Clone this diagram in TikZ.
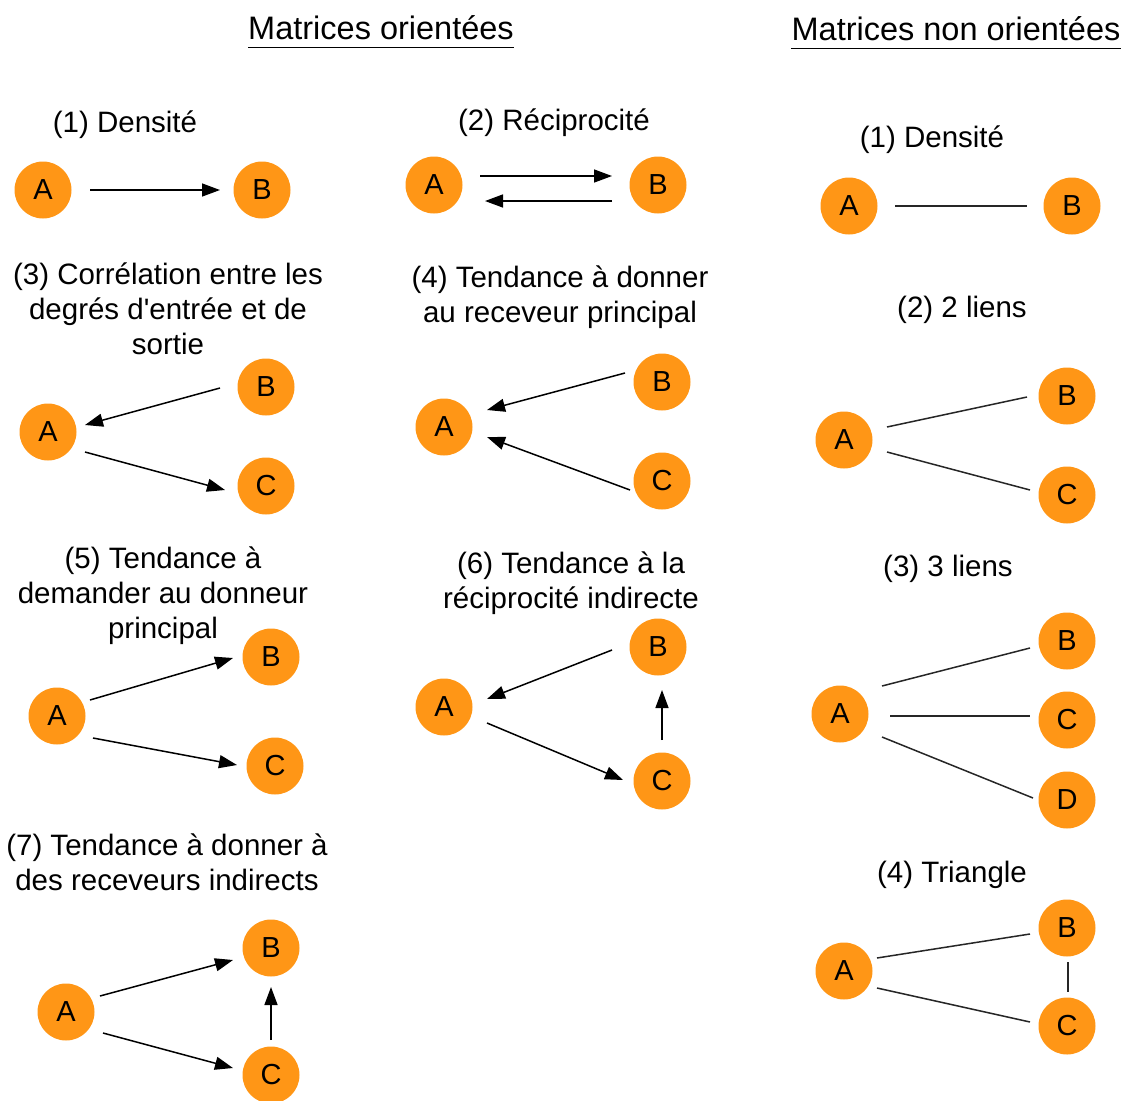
\documentclass[tikz,border=0pt]{standalone}
\usepackage{fontspec}
\setmainfont{Liberation Sans}
\usetikzlibrary{arrows.meta,calc}
\definecolor{nodeorange}{RGB}{255,150,22}
\tikzset{
  vtx/.style={circle,fill=nodeorange,minimum size=57pt,inner sep=0pt,font=\fontsize{29}{34}\selectfont},
  lbl/.style={align=center,font=\fontsize{29.5}{35}\selectfont,inner sep=0pt},
  ttl/.style={font=\fontsize{32.5}{38}\selectfont,inner sep=0pt},
  arr/.style={line width=1.5pt,-{Triangle[length=18pt,width=13pt]}},
  edg/.style={line width=1.5pt,draw=black!85}
}
\begin{document}
\begin{tikzpicture}[x=1pt,y=-1pt]
\useasboundingbox (0,0) rectangle (1128,1101);
% titles
\node[ttl] (t1) at (381,28) {Matrices orientées};
\draw[line width=1.3pt] (t1.south west)++(0,7) -- ($(t1.south east)+(0,7)$);
\node[ttl] (t2) at (956,29) {Matrices non orientées};
\draw[line width=1.3pt] (t2.south west)++(0,7) -- ($(t2.south east)+(0,7)$);

% (1)
\node[lbl] (l1) at (125,125) {(1) Densité};
\node[vtx] (a1) at (43,190) {A};
\node[vtx] (b1) at (262,190) {B};
\draw[arr] ($(a1)+(47,0)$) -- ($(b1)+(-42,0)$);

% (2)
\node[lbl] (l2) at (554,123) {(2) Réciprocité};
\node[vtx] (a2) at (434,185) {A};
\node[vtx] (b2) at (658,185) {B};
\draw[arr] ($(a2)+(46,-9)$) -- ($(b2)+(-46,-9)$);
\draw[arr] ($(b2)+(-46,16)$) -- ($(a2)+(51,16)$);

% (3)
\node[lbl] (l3) at (168,309) {(3) Corrélation entre les\\degrés d\textquotesingle entrée et de\\sortie};
\node[vtx] (a3) at (48,432) {A};
\node[vtx] (b3) at (266,387) {B};
\node[vtx] (c3) at (266,486) {C};
\draw[arr] ($(b3)+(-46,1)$) -- ($(a3)+(37,-7)$);
\draw[arr] ($(a3)+(37,20)$) -- ($(c3)+(-41,4)$);

% (4)
\node[lbl] (l4) at (560,297) {(4) Tendance à donner\\au receveur principal};
\node[vtx] (a4) at (444,427) {A};
\node[vtx] (b4) at (662,382) {B};
\node[vtx] (c4) at (662,481) {C};
\draw[arr] ($(b4)+(-37,-9)$) -- ($(a4)+(43,-17)$);
\draw[arr] ($(c4)+(-32,9)$) -- ($(a4)+(43,10)$);

% (5)
\node[lbl] (l5) at (163,596) {(5) Tendance à\\demander au donneur\\principal};
\node[vtx] (a5) at (57,716) {A};
\node[vtx] (b5) at (271,657) {B};
\node[vtx] (c5) at (275,766) {C};
\draw[arr] ($(a5)+(33,-16)$) -- ($(b5)+(-38,1)$);
\draw[arr] ($(a5)+(36,22)$) -- ($(c5)+(-38,-1)$);

% (6)
\node[lbl] (l6) at (571,583) {(6) Tendance à la\\réciprocité indirecte};
\node[vtx] (a6) at (444,707) {A};
\node[vtx] (b6) at (658,647) {B};
\node[vtx] (c6) at (662,781) {C};
\draw[arr] ($(b6)+(-46,3)$) -- ($(a6)+(43,-8)$);
\draw[arr] ($(a6)+(43,16)$) -- ($(c6)+(-39,-1)$);
\draw[arr] ($(c6)+(0,-41)$) -- ($(b6)+(4,43)$);

% (7)
\node[lbl] (l7) at (167,862) {(7) Tendance à donner à\\des receveurs indirects};
\node[vtx] (a7) at (66,1012) {A};
\node[vtx] (b7) at (271,948) {B};
\node[vtx] (c7) at (271,1075) {C};
\draw[arr] ($(a7)+(34,-16)$) -- ($(b7)+(-38,12)$);
\draw[arr] ($(a7)+(37,21)$) -- ($(c7)+(-38,-7)$);
\draw[arr] ($(c7)+(0,-35)$) -- ($(b7)+(0,39)$);

% right (1)
\node[lbl] (r1) at (932,140) {(1) Densité};
\node[vtx] (ra1) at (849,206) {A};
\node[vtx] (rb1) at (1072,206) {B};
\draw[edg] ($(ra1)+(46,0)$) -- ($(rb1)+(-45,0)$);

% right (2)
\node[lbl] (r2) at (962,310) {(2) 2 liens};
\node[vtx] (ra2) at (844,440) {A};
\node[vtx] (rb2) at (1067,396) {B};
\node[vtx] (rc2) at (1067,495) {C};
\draw[edg] ($(ra2)+(43,-13)$) -- ($(rb2)+(-40,1)$);
\draw[edg] ($(ra2)+(43,12)$) -- ($(rc2)+(-37,-5)$);

% right (3)
\node[lbl] (r3) at (948,569) {(3) 3 liens};
\node[vtx] (ra3) at (840,714) {A};
\node[vtx] (rb3) at (1067,641) {B};
\node[vtx] (rc3) at (1067,720) {C};
\node[vtx] (rd3) at (1067,800) {D};
\draw[edg] ($(ra3)+(42,-28)$) -- ($(rb3)+(-37,7)$);
\draw[edg] ($(ra3)+(50,2)$) -- ($(rc3)+(-37,-4)$);
\draw[edg] ($(ra3)+(42,23)$) -- ($(rd3)+(-34,-2)$);

% right (4)
\node[lbl] (r4) at (952,875) {(4) Triangle};
\node[vtx] (ra4) at (844,971) {A};
\node[vtx] (rb4) at (1067,928) {B};
\node[vtx] (rc4) at (1067,1026) {C};
\draw[edg] ($(ra4)+(33,-13)$) -- ($(rb4)+(-37,6)$);
\draw[edg] ($(ra4)+(33,17)$) -- ($(rc4)+(-37,-4)$);
\draw[edg] ($(rb4)+(1,34)$) -- ($(rc4)+(1,-34)$);
\end{tikzpicture}
\end{document}
